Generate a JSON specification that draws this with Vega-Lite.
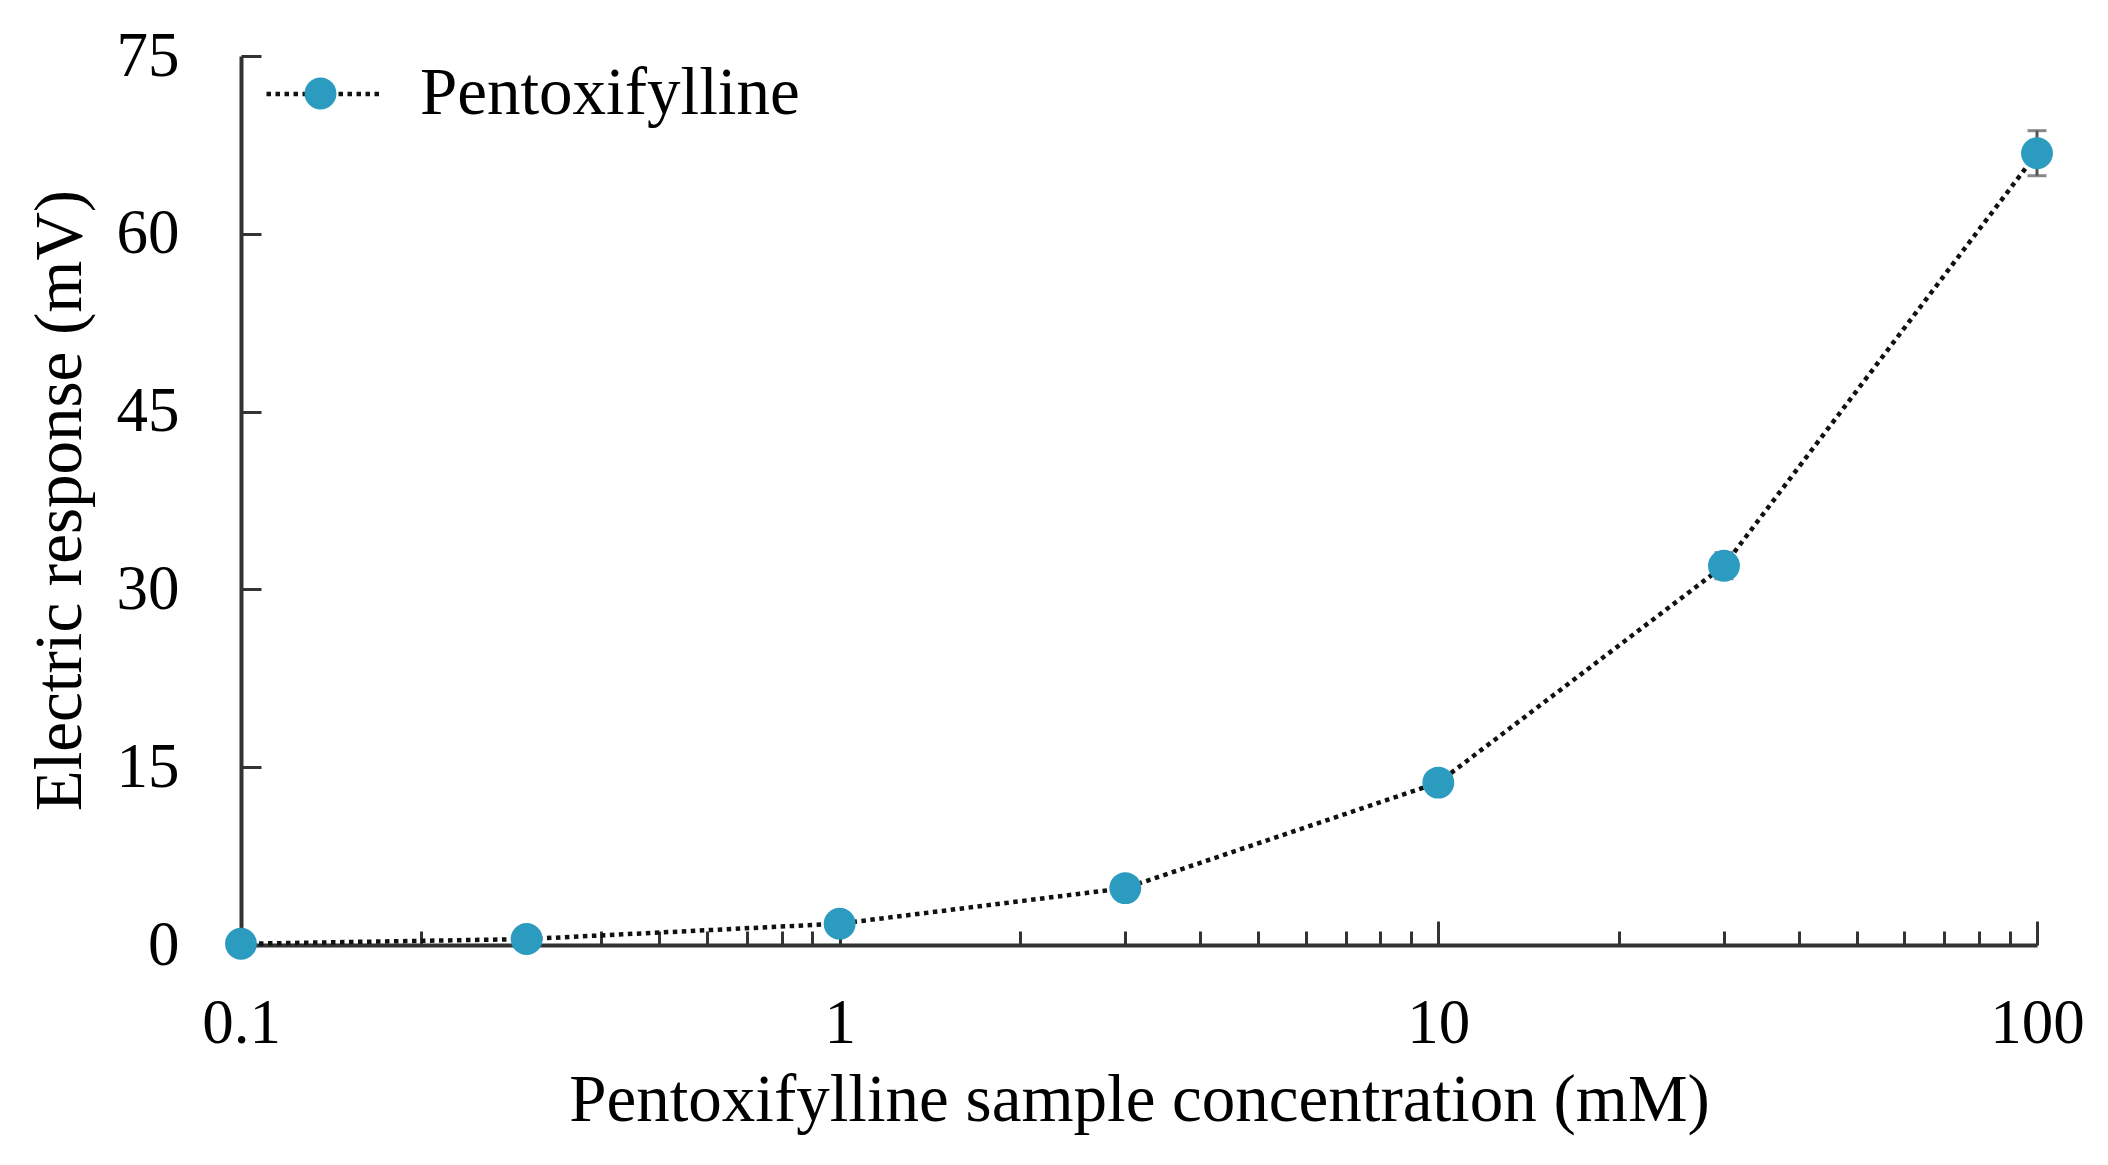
{
  "$schema": "https://vega.github.io/schema/vega-lite/v6.json",
  "autosize": {"type": "none"},
  "width": 1796,
  "height": 889,
  "padding": {"left": 241, "top": 56, "right": 71, "bottom": 220},
  "background": "white",
  "config": {
    "view": {"stroke": null},
    "font": "Liberation Serif",
    "axis": {
      "labelFont": "Liberation Serif",
      "titleFont": "Liberation Serif",
      "labelColor": "#000",
      "titleColor": "#000",
      "labelFontSize": 63,
      "titleFontSize": 67,
      "titleFontWeight": "normal",
      "domainColor": "#333",
      "domainWidth": 4,
      "tickColor": "#333",
      "tickWidth": 3,
      "grid": false
    },
    "legend": {
      "labelFont": "Liberation Serif",
      "labelFontSize": 67,
      "labelColor": "#000",
      "labelLimit": 0,
      "padding": 0
    }
  },
  "data": {
    "values": [
      {"conc": 0.1, "resp": 0.1, "lo": 0.0, "hi": 0.2, "series": "Pentoxifylline"},
      {"conc": 0.3, "resp": 0.5, "lo": 0.3, "hi": 0.7, "series": "Pentoxifylline"},
      {"conc": 1, "resp": 1.8, "lo": 1.4, "hi": 2.2, "series": "Pentoxifylline"},
      {"conc": 3, "resp": 4.8, "lo": 4.2, "hi": 5.4, "series": "Pentoxifylline"},
      {"conc": 10, "resp": 13.7, "lo": 12.9, "hi": 14.5, "series": "Pentoxifylline"},
      {"conc": 30, "resp": 32.0, "lo": 30.9, "hi": 33.1, "series": "Pentoxifylline"},
      {"conc": 100, "resp": 66.8, "lo": 64.9, "hi": 68.7, "series": "Pentoxifylline"}
    ]
  },
  "resolve": {"axis": {"x": "independent", "y": "independent"}},
  "layer": [
    {
      "mark": {"type": "line", "color": "#111", "strokeWidth": 4.5, "strokeCap": "butt"},
      "encoding": {
        "x": {
          "field": "conc", "type": "quantitative",
          "scale": {"type": "log", "domain": [0.1, 100], "nice": false},
          "axis": {
            "orient": "bottom",
            "values": [0.1, 1, 10, 100],
            "format": "~g",
            "tickSize": -24,
            "labelPadding": 71,
            "labelFlush": false,
            "title": "Pentoxifylline sample concentration (mM)",
            "titleY": 175,
            "titleBaseline": "alphabetic"
          }
        },
        "y": {
          "field": "resp", "type": "quantitative",
          "scale": {"domain": [0, 75], "nice": false},
          "axis": {
            "orient": "left",
            "values": [0, 15, 30, 45, 60, 75],
            "tickSize": -20,
            "labelPadding": 82,
            "title": "Electric response (mV)",
            "titleX": -181,
            "titleY": 444,
            "titleAngle": -90,
            "titleBaseline": "middle",
            "titleAlign": "center"
          }
        },
        "strokeDash": {
          "field": "series", "type": "nominal",
          "scale": {"range": [[4.5, 4.5]]},
          "legend": {
            "orient": "none",
            "legendX": 23,
            "legendY": -22,
            "title": null,
            "symbolType": "stroke",
            "symbolSize": 13225,
            "symbolStrokeColor": "#111",
            "symbolStrokeWidth": 4.5,
            "labelExpr": "''",
            "labelOffset": 0
          }
        }
      }
    },
    {
      "mark": {"type": "errorbar", "ticks": {"size": 19, "color": "#555", "thickness": 3}, "rule": {"color": "#555", "strokeWidth": 3}},
      "encoding": {
        "x": {"field": "conc", "type": "quantitative", "scale": {"type": "log", "domain": [0.1, 100], "nice": false}, "axis": null},
        "y": {"field": "lo", "type": "quantitative", "scale": {"domain": [0, 75], "nice": false}, "axis": null},
        "y2": {"field": "hi"}
      }
    },
    {
      "mark": {"type": "point", "filled": true, "opacity": 1, "size": 1018, "shape": "circle"},
      "encoding": {
        "x": {
          "field": "conc", "type": "quantitative",
          "scale": {"type": "log", "domain": [0.1, 100], "nice": false},
          "axis": {
            "orient": "bottom",
            "values": [0.2, 0.3, 0.4, 0.5, 0.6, 0.7, 0.8, 0.9, 2, 3, 4, 5, 6, 7, 8, 9, 20, 30, 40, 50, 60, 70, 80, 90],
            "tickSize": -14,
            "labels": false,
            "domain": false,
            "title": null
          }
        },
        "y": {"field": "resp", "type": "quantitative", "scale": {"domain": [0, 75], "nice": false}, "axis": null},
        "color": {
          "field": "series", "type": "nominal",
          "scale": {"range": ["#2B9BC0"]},
          "legend": {
            "orient": "none",
            "legendX": 46,
            "legendY": 4,
            "title": null,
            "symbolType": "circle",
            "symbolSize": 1018,
            "symbolOpacity": 1,
            "labelOffset": 66
          }
        }
      }
    }
  ]
}
